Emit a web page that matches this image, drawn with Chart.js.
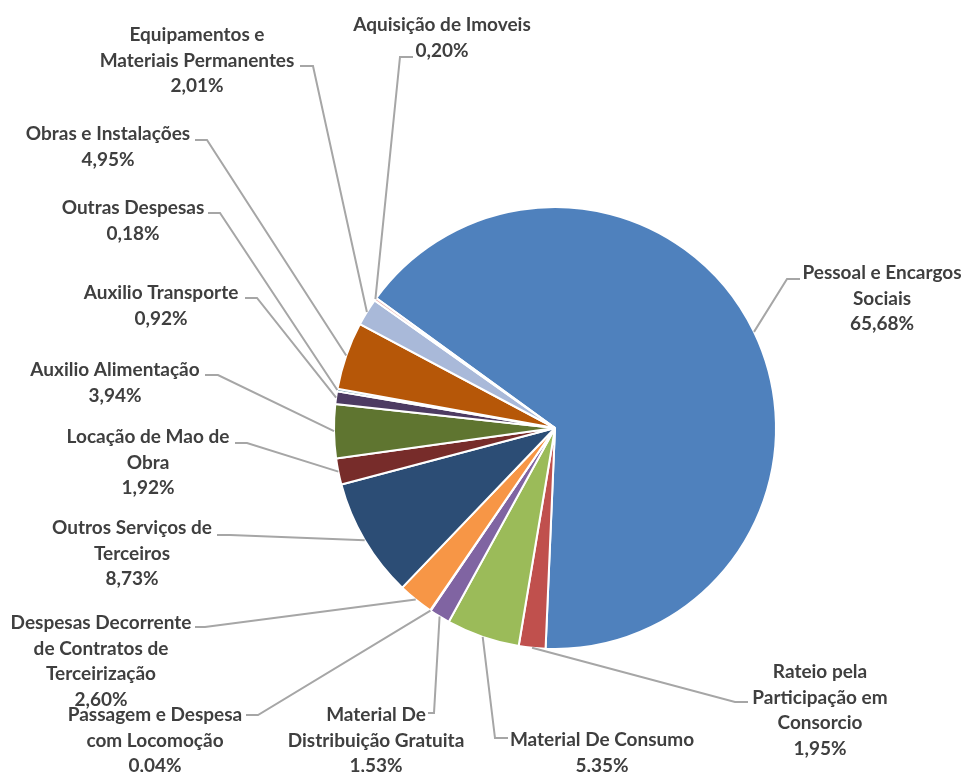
<!DOCTYPE html>
<html lang="pt">
  <head>
    <meta charset="UTF-8" />
    <title>Despesas por Natureza</title>
    <script src="https://cdn.jsdelivr.net/npm/chart.js"></script>
    <style>
      html,
      body {
        margin: 0;
        padding: 0;
        background: #ffffff;
      }
      .chart-box {
        width: 964px;
        height: 772px;
        position: relative;
      }
    </style>
  </head>
  <body>
    <div class="chart-box">
      <canvas id="pieChart"></canvas>
    </div>

    <script>
      // Categorias (quebradas em linhas como no rótulo)
      const categoryLines = [
        ["Pessoal e Encargos", "Sociais"],
        ["Rateio pela", "Participação em", "Consorcio"],
        ["Material De Consumo"],
        ["Material De", "Distribuição Gratuita"],
        ["Passagem e Despesa", "com Locomoção"],
        ["Despesas Decorrente", "de Contratos de", "Terceirização"],
        ["Outros Serviços de", "Terceiros"],
        ["Locação de Mao de", "Obra"],
        ["Auxilio Alimentação"],
        ["Auxilio Transporte"],
        ["Outras Despesas"],
        ["Obras e Instalações"],
        ["Equipamentos e", "Materiais Permanentes"],
        ["Aquisição de Imoveis"],
      ];

      // Participação de cada despesa (%)
      const shares = [
        65.68, 1.95, 5.35, 1.53, 0.04, 2.6, 8.73, 1.92, 3.94, 0.92, 0.18, 4.95,
        2.01, 0.2,
      ];

      const sliceColors = [
        "#4F81BD",
        "#C0504D",
        "#9BBB59",
        "#8064A2",
        "#4BACC6",
        "#F79646",
        "#2C4D75",
        "#772C2A",
        "#5F7530",
        "#4D3B62",
        "#276A7C",
        "#B65708",
        "#A9B9D9",
        "#E6A2A0",
      ];

      // Posição dos rótulos: centro do texto, y da 1a linha e o "gancho" da linha guia
      const calloutSpots = [
        { x: 882, y: 273, end: 800, elbow: 787, hookY: 279 },
        { x: 820, y: 672, end: 748, elbow: 735, hookY: 702 },
        { x: 602, y: 740, end: 508, elbow: 495, hookY: 738 },
        { x: 376, y: 715, end: 428, elbow: 434, hookY: 713 },
        { x: 155, y: 715, end: 246, elbow: 258, hookY: 715 },
        { x: 101, y: 623, end: 195, elbow: 205, hookY: 627 },
        { x: 132, y: 528, end: 217, elbow: 230, hookY: 535 },
        { x: 148, y: 437, end: 235, elbow: 247, hookY: 443 },
        { x: 115, y: 370, end: 205, elbow: 218, hookY: 375 },
        { x: 161, y: 293, end: 245, elbow: 257, hookY: 298 },
        { x: 133, y: 208, end: 208, elbow: 220, hookY: 213 },
        { x: 108, y: 134, end: 195, elbow: 207, hookY: 140 },
        { x: 197, y: 35, end: 300, elbow: 313, hookY: 66 },
        { x: 442, y: 25, end: 413, elbow: 400, hookY: 57 },
      ];

      const lineGap = 25.5;

      // Rótulos externos com linhas guia
      const calloutPlugin = {
        id: "callouts",
        afterDatasetsDraw(chart) {
          const ctx = chart.ctx;
          const arcs = chart.getDatasetMeta(0).data;
          ctx.save();
          arcs.forEach((arc, i) => {
            const spot = calloutSpots[i];
            const p = arc.getProps(
              ["x", "y", "startAngle", "endAngle", "outerRadius"],
              true
            );
            const mid = (p.startAngle + p.endAngle) / 2;
            const sx = p.x + Math.cos(mid) * p.outerRadius;
            const sy = p.y + Math.sin(mid) * p.outerRadius;

            ctx.strokeStyle = "#A6A6A6";
            ctx.lineWidth = 2;
            ctx.beginPath();
            ctx.moveTo(sx, sy);
            ctx.lineTo(spot.elbow, spot.hookY);
            ctx.lineTo(spot.end, spot.hookY);
            ctx.stroke();

            ctx.fillStyle = "#3F3F3F";
            ctx.font = "bold 19px Lato";
            ctx.textAlign = "center";
            ctx.textBaseline = "middle";
            const pct = shares[i].toFixed(2).replace(".", ",") + "%";
            const lines = categoryLines[i].concat([pct]);
            lines.forEach((t, k) => {
              ctx.fillText(t, spot.x, spot.y + k * lineGap);
            });
          });
          ctx.restore();
        },
      };

      const ctx = document.getElementById("pieChart").getContext("2d");
      new Chart(ctx, {
        type: "pie",
        data: {
          labels: categoryLines.map((l) => l.join(" ")),
          datasets: [
            {
              data: shares,
              backgroundColor: sliceColors,
              borderColor: "#ffffff",
              borderWidth: 2,
            },
          ],
        },
        options: {
          responsive: true,
          maintainAspectRatio: false,
          animation: false,
          rotation: -54,
          layout: {
            padding: { top: 206, bottom: 122, left: 333, right: 187 },
          },
          plugins: {
            legend: { display: false },
            tooltip: { enabled: false },
          },
        },
        plugins: [calloutPlugin],
      });
    </script>
  </body>
</html>
